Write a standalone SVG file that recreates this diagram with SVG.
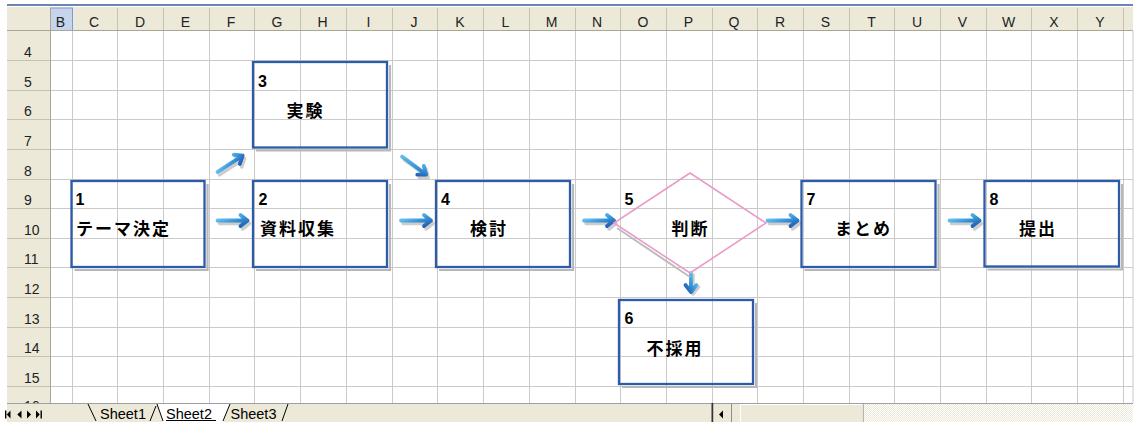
<svg xmlns="http://www.w3.org/2000/svg" width="1137" height="422" viewBox="0 0 1137 422">
<style>
.grid{stroke:#CACACA;stroke-width:1;fill:none}
.hdr{fill:#ECE9D8}
.hsep{stroke:#C6C2B0;stroke-width:1;fill:none}
.hbd{stroke:#A8A696;stroke-width:1;fill:none}
.hl{font-family:"Liberation Sans",Arial,sans-serif;font-size:14px;fill:#222}
.hc{text-anchor:middle}
.box{fill:none;stroke:#2E5BA8;stroke-width:2.3}
.sh{fill:none;stroke:#B8B8B8;stroke-width:2.2}
.num{font-family:"Liberation Sans",Arial,sans-serif;font-weight:bold;font-size:16px;fill:#000}
.lbl{font-family:"Liberation Sans","Noto Sans CJK JP",sans-serif;font-weight:bold;font-size:17px;letter-spacing:2px;fill:#000}
.dia{fill:none;stroke:#EA9CC7;stroke-width:1.6}
.dsh{fill:none;stroke:#BDBDBD;stroke-width:2}
.ab{fill:none;stroke:url(#ag);stroke-width:3.8;stroke-linecap:round;stroke-linejoin:round}
.as{fill:none;stroke:#C4C4C4;stroke-width:3.5;stroke-linecap:round;stroke-linejoin:round;opacity:0.85}
.tab{font-family:"Liberation Sans",Arial,sans-serif;font-size:14.5px;fill:#000}
.tl{stroke:#000;stroke-width:1;fill:none}
.ico{fill:#000}
</style>
<defs>
<linearGradient id="ag" x1="0" y1="0" x2="1" y2="1">
<stop offset="0" stop-color="#8AD8F8"/>
<stop offset="0.5" stop-color="#3A9BDD"/>
<stop offset="1" stop-color="#1F56AD"/>
</linearGradient>
<path id="ar" d="M-31,0 H-1 M-8,-5.5 L-1,0 L-8,5.5"/>
<path id="ar2" d="M-20,0 H-1 M-8,-5.5 L-1,0 L-8,5.5"/>
<pattern id="dith" width="2" height="2" patternUnits="userSpaceOnUse">
<rect width="2" height="2" fill="#ECE9D8"/>
<rect width="1" height="1" fill="#FFFFFF"/>
<rect x="1" y="1" width="1" height="1" fill="#FFFFFF"/>
</pattern>
</defs>
<rect width="1137" height="422" fill="#FFFFFF"/>

<g id="sheet">
<rect class="hdr" x="7" y="7" width="1126" height="23.5"/>
<rect class="hdr" x="7" y="30.5" width="43.5" height="373"/>
<line x1="7" y1="5" x2="1133" y2="5" stroke="#3D5D9A" stroke-width="1.6"/>
<rect x="50.5" y="8" width="22" height="22.5" fill="#C6D4EC" stroke="#7E9CD2" stroke-width="1"/>
<path class="hsep" d="M117.5,8V30 M163.5,8V30 M209.5,8V30 M254.5,8V30 M300.5,8V30 M346.5,8V30 M392.5,8V30 M437.5,8V30 M483.5,8V30 M529.5,8V30 M575.5,8V30 M620.5,8V30 M666.5,8V30 M712.5,8V30 M757.5,8V30 M803.5,8V30 M849.5,8V30 M894.5,8V30 M940.5,8V30 M986.5,8V30 M1031.5,8V30 M1077.5,8V30 M1123.5,8V30"/>
<path class="hsep" d="M7,60.5H50 M7,90.5H50 M7,119.5H50 M7,149.5H50 M7,179.5H50 M7,208.5H50 M7,238.5H50 M7,267.5H50 M7,297.5H50 M7,327.5H50 M7,356.5H50 M7,386.5H50"/>
<path class="hbd" d="M7,30.5H1133 M50.5,8V403"/>
<path class="grid" d="M72.5,31V403 M117.5,31V403 M163.5,31V403 M209.5,31V403 M254.5,31V403 M300.5,31V403 M346.5,31V403 M392.5,31V403 M437.5,31V403 M483.5,31V403 M529.5,31V403 M575.5,31V403 M620.5,31V403 M666.5,31V403 M712.5,31V403 M757.5,31V403 M803.5,31V403 M849.5,31V403 M894.5,31V403 M940.5,31V403 M986.5,31V403 M1031.5,31V403 M1077.5,31V403 M1123.5,31V403 M1133,31V403"/>
<path class="grid" d="M51,60.5H1133 M51,90.5H1133 M51,119.5H1133 M51,149.5H1133 M51,179.5H1133 M51,208.5H1133 M51,238.5H1133 M51,267.5H1133 M51,297.5H1133 M51,327.5H1133 M51,356.5H1133 M51,386.5H1133"/>
<g class="hl hc">
<text x="60.5" y="26.5">B</text><text x="94" y="26.5">C</text><text x="140" y="26.5">D</text><text x="185.5" y="26.5">E</text><text x="231" y="26.5">F</text><text x="277" y="26.5">G</text><text x="322.5" y="26.5">H</text><text x="368.5" y="26.5">I</text><text x="414" y="26.5">J</text><text x="460" y="26.5">K</text><text x="505.5" y="26.5">L</text><text x="551.5" y="26.5">M</text><text x="597" y="26.5">N</text><text x="643" y="26.5">O</text><text x="688.5" y="26.5">P</text><text x="734" y="26.5">Q</text><text x="780" y="26.5">R</text><text x="825.5" y="26.5">S</text><text x="871.5" y="26.5">T</text><text x="917" y="26.5">U</text><text x="962.5" y="26.5">V</text><text x="1008.5" y="26.5">W</text><text x="1054" y="26.5">X</text><text x="1100" y="26.5">Y</text>
</g>
<g class="hl">
<text x="24" y="56.8">4</text><text x="24" y="86.8">5</text><text x="24" y="116">6</text><text x="24" y="145.8">7</text><text x="24" y="175.8">8</text><text x="24" y="205">9</text><text x="24" y="234.8">10</text><text x="24" y="263.8">11</text><text x="24" y="293.8">12</text><text x="24" y="323.8">13</text><text x="24" y="352.8">14</text><text x="24" y="382.8">15</text><text x="24" y="411">16</text>
</g>
</g>

<g id="connectors">
<use href="#ar" class="as" transform="translate(250.5,223.5)"/>
<use href="#ar" class="ab" transform="translate(248.5,220.5)"/>
<use href="#ar" class="as" transform="translate(434,223.5)"/>
<use href="#ar" class="ab" transform="translate(432,220.5)"/>
<use href="#ar" class="as" transform="translate(617,223.5)"/>
<use href="#ar" class="ab" transform="translate(615,220.5)"/>
<use href="#ar" class="as" transform="translate(800.5,223.5)"/>
<use href="#ar" class="ab" transform="translate(798.5,220.5)"/>
<use href="#ar" class="as" transform="translate(982.5,223.5)"/>
<use href="#ar" class="ab" transform="translate(980.5,220.5)"/>
<use href="#ar" class="as" transform="translate(245.5,158) rotate(-33)"/>
<use href="#ar" class="ab" transform="translate(243.5,155) rotate(-33)"/>
<use href="#ar" class="as" transform="translate(429,178) rotate(36.5)"/>
<use href="#ar" class="ab" transform="translate(427,175) rotate(36.5)"/>
<use href="#ar2" class="as" transform="translate(693,295) rotate(90)"/>
<use href="#ar2" class="ab" transform="translate(691,293) rotate(90)"/>
</g>

<g id="n1">
<path class="sh" d="M207.5,184V270H74.5"/>
<rect class="box" x="71.5" y="181" width="133" height="86"/>
<text class="num" x="75.5" y="205">1</text>
<text class="lbl" x="76" y="235">テーマ決定</text>
</g>
<g id="n2">
<path class="sh" d="M390,184V270H256"/>
<rect class="box" x="253" y="181" width="134" height="86"/>
<text class="num" x="258.5" y="205">2</text>
<text class="lbl" x="260" y="235">資料収集</text>
</g>
<g id="n3">
<path class="sh" d="M390,65V150.5H256"/>
<rect class="box" x="253" y="62" width="134" height="85.5"/>
<text class="num" x="258" y="86.7">3</text>
<text class="lbl" x="286.5" y="116.8">実験</text>
</g>
<g id="n4">
<path class="sh" d="M573,184V270H439"/>
<rect class="box" x="436" y="181" width="134" height="86"/>
<text class="num" x="441" y="205">4</text>
<text class="lbl" x="470" y="235">検討</text>
</g>
<g id="n5">
<path class="dsh" d="M617,228L690,277"/>
<polygon class="dia" points="690,173 766,223 690,273 614,223"/>
<text class="num" x="624.5" y="205">5</text>
<text class="lbl" x="671.5" y="235">判断</text>
</g>
<g id="n6">
<path class="sh" d="M756,303V387H622"/>
<rect class="box" x="619" y="300" width="134" height="84"/>
<text class="num" x="624.5" y="324">6</text>
<text class="lbl" x="646.5" y="354.5">不採用</text>
</g>
<g id="n7">
<path class="sh" d="M938.5,184V270H804.5"/>
<rect class="box" x="801.5" y="181" width="134" height="86"/>
<text class="num" x="806.5" y="205">7</text>
<text class="lbl" x="835" y="235">まとめ</text>
</g>
<g id="n8">
<path class="sh" d="M1122,184V269.5H987.5"/>
<rect class="box" x="984.5" y="181" width="134.5" height="85.5"/>
<text class="num" x="989.5" y="205">8</text>
<text class="lbl" x="1019" y="235">提出</text>
</g>

<g id="tabbar">
<rect x="7" y="403" width="705" height="19" fill="#ECE9D8"/>
<line x1="7" y1="403.5" x2="1133" y2="403.5" stroke="#A0A0A0" stroke-width="1"/>
<rect x="5" y="410.5" width="1.4" height="8" class="ico"/>
<polygon class="ico" points="10.5,410.5 6.8,414.5 10.5,418.5"/>
<polygon class="ico" points="21.5,410.5 17.3,414.5 21.5,418.5"/>
<polygon class="ico" points="27,410.5 31,414.5 27,418.5"/>
<polygon class="ico" points="36,410.5 39.8,414.5 36,418.5"/>
<rect x="40.5" y="410.5" width="1.4" height="8" class="ico"/>
<path class="tl" d="M88,404L96,421"/>
<path class="tl" d="M150,421L156,406"/>
<polygon points="157,404 230,404 223,422 163,422" fill="#FFFFFF"/>
<path class="tl" d="M157,404L163,421 M223,421L230,404 M282,421L288,404"/>
<text class="tab" x="100" y="419">Sheet1</text>
<text class="tab" x="166" y="419">Sheet2</text>
<line x1="166" y1="420.5" x2="216" y2="420.5" stroke="#000" stroke-width="1"/>
<text class="tab" x="230.5" y="419">Sheet3</text>
<rect x="711.5" y="403" width="1.8" height="19" fill="#333"/>
<rect x="714" y="404" width="18" height="18" fill="#ECE9D8"/>
<polygon class="ico" points="723,410.5 719,414.5 723,418.5"/>
<line x1="731.7" y1="404" x2="731.7" y2="422" stroke="#7A7A7A" stroke-width="1"/>
<rect x="732.2" y="404" width="8" height="18" fill="#ECE9D8"/>
<rect x="740.5" y="404.5" width="122.5" height="18" fill="#ECE9D8" stroke="#FFFFFF" stroke-width="1"/>
<line x1="863.3" y1="404" x2="863.3" y2="422" stroke="#A5A39A" stroke-width="1"/>
<rect x="864" y="404" width="269" height="18" fill="url(#dith)"/>
</g>
</svg>
